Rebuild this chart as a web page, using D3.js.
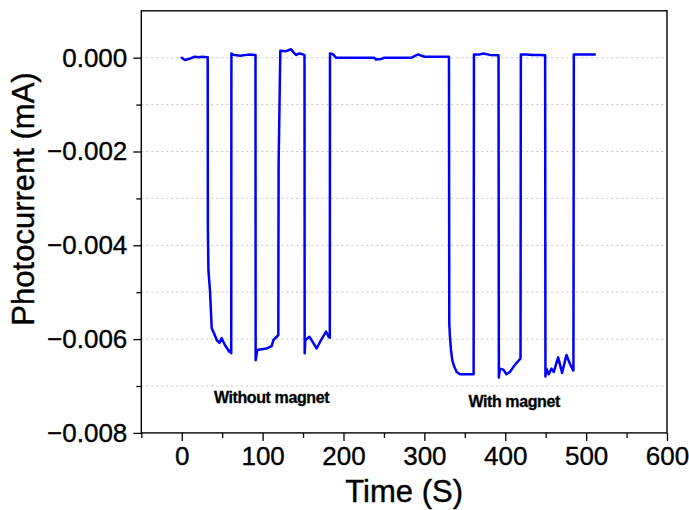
<!DOCTYPE html>
<html>
<head>
<meta charset="utf-8">
<script src="https://cdn.jsdelivr.net/npm/d3@7/dist/d3.min.js"></script>
<style>
  html, body { margin: 0; padding: 0; background: #fff; }
  svg { display: block; }
  text { font-family: "Liberation Sans", Arial, sans-serif; fill: #000; }
</style>
</head>
<body>
<svg id="chart" width="689" height="510"></svg>
<script>
// Photocurrent trace, time in seconds
const time = [
  0, 4, 10, 16, 21, 25, 32.1,
  32.3, 33.0, 35.0, 37.1, 40.0, 43.3, 46.6, 49.4, 53.5, 58.9, 60.5, 61.2,
  61.4, 63.9, 72.1, 80.4, 84.5, 90.6, 91.2,
  91.4, 93.5, 96.8, 105.0, 111.2, 113.3, 117.4, 119.4, 119.8, 121.9,
  128.9, 135.1, 138.4, 141.3, 145.4, 149.5, 151.6, 151.8,
  152.0, 152.8, 155.7, 157.8, 161.9, 166.8, 172.2, 178.4, 181.6, 183.1,
  183.3, 186.6, 190.7, 238.2, 240.2, 246.4, 250.5,
  284.3, 288.4, 292.5, 296.7, 300.7, 330.4,
  330.8, 331.6, 332.9, 334.5, 337.0, 339.9, 344.0, 352.3, 360.9,
  361.3, 368.7, 372.8, 381.0, 391.7,
  392.1, 393.4, 397.5, 401.6, 405.7, 411.9, 418.1, 418.9,
  419.3, 426.3, 434.5, 442.8, 449.3,
  449.7, 451.0, 453.8, 457.1, 460.0, 465.4, 470.3, 475.7, 479.8, 483.9, 484.3,
  484.8, 496.3, 510.7
];
const current = [
  0, -0.00005, -0.00002, 0.00002, 0.00001, 0.00002, 0.00001,
  -0.0036, -0.00453, -0.00499, -0.00577, -0.00588, -0.00602, -0.00608, -0.00598, -0.00613, -0.00627, -0.00623, -0.0063,
  0.00009, 0.00006, 0.00004, 0.00006, 0.00007, 0.00006, 0.00006,
  -0.00645, -0.00623, -0.00622, -0.0062, -0.00615, -0.00602, -0.00595, -0.00592, -0.00225, 0.00015,
  0.00014, 0.00018, 0.00011, 0.00006, 0.00009, 0.00007, 0.00006, 0.00006,
  -0.0063, -0.00602, -0.00598, -0.00595, -0.00606, -0.0062, -0.00602, -0.00584, -0.00595, -0.00597,
  0.00009, 0.00008, 0, 0, -0.00004, -0.00003, 0,
  0, 0.00004, 0.00007, 0.00004, 0.00002, 0.00002,
  -0.00566, -0.00595, -0.00623, -0.00645, -0.00659, -0.0067, -0.00675, -0.00675, -0.00675,
  0.00007, 0.00007, 0.00009, 0.00006, 0.00005,
  -0.00682, -0.00663, -0.00665, -0.00675, -0.0067, -0.00655, -0.00643, -0.00641,
  0.00007, 0.00007, 0.00006, 0.00006, 0.00005,
  -0.0068, -0.00663, -0.00675, -0.00663, -0.0067, -0.00639, -0.00672, -0.00634, -0.00652, -0.00667, -0.00667,
  0.00007, 0.00007, 0.00007
];

const xTicks = [0, 100, 200, 300, 400, 500, 600];
const xMinorTicks = [-50, 50, 150, 250, 350, 450, 550];
const yTicks = [0, -0.002, -0.004, -0.006, -0.008];
const yMinorTicks = [-0.001, -0.003, -0.005, -0.007];
const yGrid = [0, -0.001, -0.002, -0.003, -0.004, -0.005, -0.006, -0.007];

const notes = [
  { text: "Without magnet", t: 111, v: -0.00737 },
  { text: "With magnet", t: 411, v: -0.00744 }
];

const svg = d3.select("#chart");
const plot = { left: 141.3, right: 667, top: 10.8, bottom: 432.9 };

const x = d3.scaleLinear().domain([-50, 600]).range([plot.left, plot.right]);
const y = d3.scaleLinear().domain([-0.008, 0.001]).range([plot.bottom, plot.top]);

// horizontal grid
svg.append("g")
  .selectAll("line")
  .data(yGrid)
  .join("line")
  .attr("x1", plot.left).attr("x2", plot.right)
  .attr("y1", d => y(d)).attr("y2", d => y(d))
  .attr("stroke", "#c4c4c4")
  .attr("stroke-width", 1)
  .attr("stroke-dasharray", "2,3");

const fmt = d3.format(".3f");

// y axis: major + minor ticks
svg.append("g")
  .attr("transform", `translate(${plot.left},0)`)
  .call(d3.axisLeft(y).tickValues(yTicks).tickFormat(fmt).tickSize(8).tickPadding(6));
svg.append("g")
  .attr("transform", `translate(${plot.left},0)`)
  .call(d3.axisLeft(y).tickValues(yMinorTicks).tickFormat("").tickSize(5));

// x axis: major + minor ticks
svg.append("g")
  .attr("transform", `translate(0,${plot.bottom})`)
  .call(d3.axisBottom(x).tickValues(xTicks).tickFormat(d3.format("d")).tickSize(8).tickPadding(6));
svg.append("g")
  .attr("transform", `translate(0,${plot.bottom})`)
  .call(d3.axisBottom(x).tickValues(xMinorTicks).tickFormat("").tickSize(5));

svg.selectAll(".tick line").attr("stroke", "#000").attr("stroke-width", 1.3);
svg.selectAll(".domain").remove();
svg.selectAll(".tick text")
  .style("font-size", "26px")
  .style("font-family", '"Liberation Sans", Arial, sans-serif')
  .attr("stroke", "#000")
  .attr("stroke-width", 0.35);

// frame
svg.append("rect")
  .attr("x", plot.left).attr("y", plot.top)
  .attr("width", plot.right - plot.left).attr("height", plot.bottom - plot.top)
  .attr("fill", "none").attr("stroke", "#000").attr("stroke-width", 1.4);

// trace
const pts = time.map((t, i) => [t, current[i]]);
svg.append("path")
  .datum(pts)
  .attr("fill", "none")
  .attr("stroke", "#0000ff")
  .attr("stroke-width", 2.5)
  .attr("stroke-linejoin", "round")
  .attr("stroke-linecap", "round")
  .attr("d", d3.line().x(d => x(d[0])).y(d => y(d[1])));

// annotations
svg.append("g")
  .selectAll("text")
  .data(notes)
  .join("text")
  .attr("x", d => x(d.t)).attr("y", d => y(d.v))
  .attr("text-anchor", "middle")
  .style("font-size", "16px")
  .style("font-weight", "bold")
  .style("letter-spacing", "-0.4px")
  .attr("stroke", "#000")
  .attr("stroke-width", 0.3)
  .text(d => d.text);

// axis titles
svg.append("text")
  .attr("x", (plot.left + plot.right) / 2)
  .attr("y", 502)
  .attr("text-anchor", "middle")
  .style("font-size", "31px")
  .attr("stroke", "#000")
  .attr("stroke-width", 0.4)
  .text("Time (S)");

svg.append("text")
  .attr("transform", `translate(34,199) rotate(-90)`)
  .attr("text-anchor", "middle")
  .style("font-size", "31px")
  .attr("stroke", "#000")
  .attr("stroke-width", 0.4)
  .text("Photocurrent (mA)");
</script>
</body>
</html>
